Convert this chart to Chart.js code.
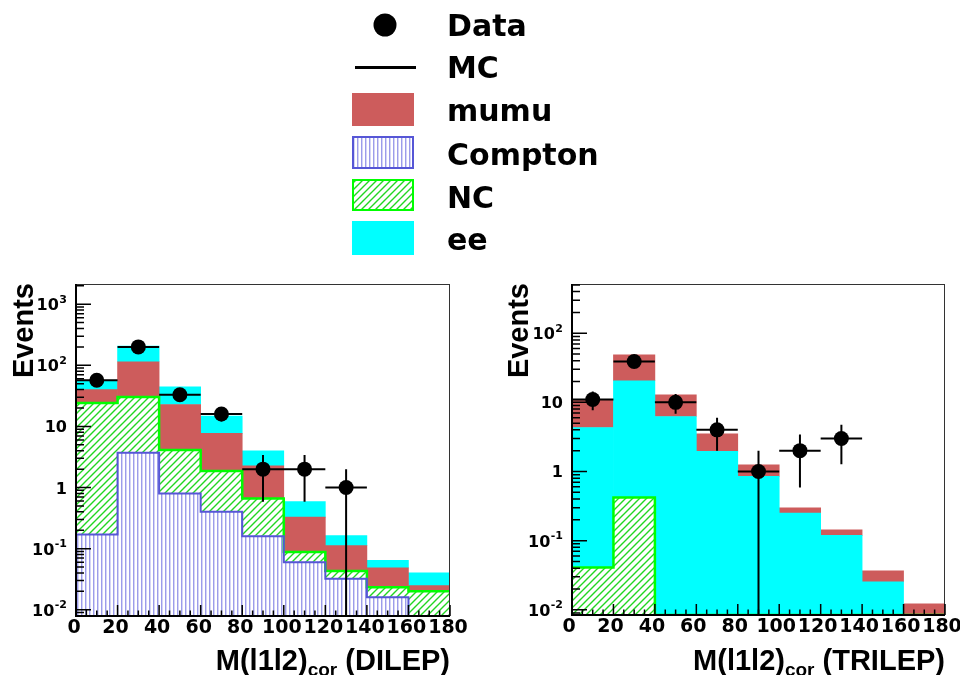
<!DOCTYPE html>
<html>
<head>
<meta charset="utf-8">
<script src="https://cdn.jsdelivr.net/npm/chart.js@4.4.1/dist/chart.umd.min.js"></script>
<style>
html,body{margin:0;padding:0;background:#fff;}
body{width:960px;height:675px;position:relative;overflow:hidden;color:#000;}
canvas{position:absolute;top:0;}
#cL{left:0;}
#cR{left:480px;}
#legSym{left:340px;}
.lt{position:absolute;left:447px;font-family:"DejaVu Sans",Verdana,sans-serif;font-weight:bold;font-size:30px;line-height:30px;white-space:nowrap;}
.xt{position:absolute;width:400px;text-align:right;font-family:"Liberation Sans",Arial,Helvetica,sans-serif;font-weight:bold;font-size:29px;line-height:29px;white-space:nowrap;}
.xt sub{font-size:19px;vertical-align:-6px;line-height:0;}
.yt{position:absolute;width:200px;text-align:right;font-family:"Liberation Sans",Arial,Helvetica,sans-serif;font-weight:bold;font-size:29px;line-height:29px;white-space:nowrap;transform:rotate(-90deg);transform-origin:0 0;}
</style>
</head>
<body>
<canvas id="cL" width="480" height="675"></canvas>
<canvas id="cR" width="480" height="675"></canvas>
<canvas id="legSym" width="100" height="260"></canvas>

<div class="lt" style="top:10.6px">Data</div>
<div class="lt" style="top:53.1px">MC</div>
<div class="lt" style="top:96.3px">mumu</div>
<div class="lt" style="top:139.6px">Compton</div>
<div class="lt" style="top:182.6px">NC</div>
<div class="lt" style="top:224.6px">ee</div>

<div class="yt" style="left:8.5px;top:483px">Events</div>
<div class="yt" style="left:503.5px;top:483px">Events</div>
<div class="xt" style="left:50px;top:645.5px">M(l1l2)<sub>cor</sub> (DILEP)</div>
<div class="xt" style="left:545px;top:645.5px">M(l1l2)<sub>cor</sub> (TRILEP)</div>

<script>
// ---------------- data ----------------
const binEdges   = [0, 20, 40, 60, 80, 100, 120, 140, 160, 180];
const binCenters = [10, 30, 50, 70, 90, 110, 130, 150, 170];

// DILEP (left panel): observed events and stacked MC components (bottom -> top)
const dilepData    = [57, 200, 33, 16, 2, 2, 1, 0, 0];
const dilepCompton = [0.17, 3.7, 0.80, 0.40, 0.16, 0.060, 0.032, 0.016, 0];
const dilepNC      = [24.1, 26.7, 3.3, 1.47, 0.50, 0.028, 0.011, 0.0074, 0.020];
const dilepMumu    = [15.7, 84, 18.7, 5.8, 1.6, 0.24, 0.069, 0.025, 0.0048];
const dilepEe      = [17, 91, 21.5, 7.1, 1.72, 0.26, 0.052, 0.016, 0.0155];

// TRILEP (right panel): observed events and stacked MC components (bottom -> top)
const trilepData    = [11, 39, 10, 4, 1, 2, 3, 0, 0];
const trilepCompton = [0, 0, 0, 0, 0, 0, 0, 0, 0];
const trilepNC      = [0.041, 0.42, 0, 0, 0, 0, 0, 0, 0];
const trilepEe      = [4.29, 20.1, 6.24, 1.95, 0.85, 0.25, 0.119, 0.0254, 0];
const trilepMumu    = [6.6, 28.1, 6.56, 1.55, 0.40, 0.048, 0.024, 0.0112, 0.0122];

// axis ranges and tick labels
const dilepYRange  = [0.0079, 2140];
const trilepYRange = [0.0084, 515];
const dilepYTickValues  = [0.01, 0.1, 1, 10, 100, 1000];
const dilepYTickLabels  = ['10^-2', '10^-1', '1', '10', '10^2', '10^3'];
const trilepYTickValues = [0.01, 0.1, 1, 10, 100];
const trilepYTickLabels = ['10^-2', '10^-1', '1', '10', '10^2'];
const xTickStep = 20;
const xMinorStep = 5;

// ---------------- styles ----------------
const COL_MUMU = '#cd5c5c';
const COL_EE = '#00ffff';
const COL_COMPTON_LINE = '#5656d6';
const COL_COMPTON_HATCH = '#9c9cea';
const COL_COMPTON_HATCH2 = '#d4d4f6';
const COL_NC_LINE = '#00ff00';
const COL_NC_HATCH = '#22d622';
const WIDE = '"DejaVu Sans", Verdana, sans-serif';

function comptonPattern(ctx) {
  const c = document.createElement('canvas'); c.width = 4; c.height = 4;
  const g = c.getContext('2d');
  g.fillStyle = '#fff'; g.fillRect(0, 0, 4, 4);
  g.fillStyle = COL_COMPTON_HATCH; g.fillRect(1, 0, 1, 4);
  g.fillStyle = COL_COMPTON_HATCH2; g.fillRect(2, 0, 1, 4);
  return ctx.createPattern(c, 'repeat');
}
function ncPattern(ctx) {
  const s = 7;
  const c = document.createElement('canvas'); c.width = s; c.height = s;
  const g = c.getContext('2d');
  g.fillStyle = '#fff'; g.fillRect(0, 0, s, s);
  g.strokeStyle = COL_NC_HATCH; g.lineWidth = 1.4;
  g.beginPath();
  g.moveTo(0, s); g.lineTo(s, 0);
  g.moveTo(-1, 1); g.lineTo(1, -1);
  g.moveTo(s - 1, s + 1); g.lineTo(s + 1, s - 1);
  g.stroke();
  return ctx.createPattern(c, 'repeat');
}

function stackTops(components) {
  const tops = [];
  let run = components[0].map(() => 0);
  components.forEach(c => { run = run.map((r, i) => r + c[i]); tops.push(run.slice()); });
  return tops;
}

// ---------------- ROOT-like frame / ticks / error bars ----------------
function drawLabel(ctx, text, xRight, yc) {
  const parts = text.split('^');
  const base = parts[0], sup = parts[1] || '';
  ctx.font = 'bold 16px ' + WIDE;
  const wb = ctx.measureText(base).width;
  ctx.font = 'bold 11px ' + WIDE;
  const ws = sup ? ctx.measureText(sup).width + 0.5 : 0;
  const x0 = xRight - wb - ws;
  ctx.textAlign = 'left'; ctx.textBaseline = 'alphabetic'; ctx.fillStyle = '#000';
  ctx.font = 'bold 16px ' + WIDE;
  ctx.fillText(base, x0, yc + 6);
  if (sup) { ctx.font = 'bold 11px ' + WIDE; ctx.fillText(sup, x0 + wb + 0.5, yc - 1.5); }
}

const rootStyle = {
  id: 'rootStyle',
  beforeDatasetDraw(chart, args, opts) {
    if (args.index !== 0) return;
    const ctx = chart.ctx, a = chart.chartArea, xs = chart.scales.x, ys = chart.scales.y;
    ctx.save();
    // frame
    ctx.strokeStyle = '#333'; ctx.lineWidth = 1;
    ctx.strokeRect(a.left + 0.5, a.top + 0.5, a.right - a.left - 1, a.bottom - a.top);
    ctx.strokeStyle = '#000'; ctx.lineWidth = 2;
    ctx.beginPath();
    ctx.moveTo(a.left, a.top); ctx.lineTo(a.left, a.bottom); ctx.lineTo(a.right, a.bottom);
    ctx.stroke();
    // ticks (inward)
    ctx.lineWidth = 1.5;
    ctx.beginPath();
    for (let v = xs.min; v <= xs.max + 1e-9; v += xMinorStep) {
      const px = xs.getPixelForValue(v);
      const len = (Math.abs(v % xTickStep) < 1e-9) ? 11 : 5.5;
      ctx.moveTo(px, a.bottom); ctx.lineTo(px, a.bottom - len);
    }
    const e0 = Math.floor(Math.log10(ys.min)), e1 = Math.ceil(Math.log10(ys.max));
    for (let e = e0; e <= e1; e++) {
      for (let m = 1; m < 10; m++) {
        const v = m * Math.pow(10, e);
        if (v < ys.min || v > ys.max) continue;
        const py = ys.getPixelForValue(v);
        ctx.moveTo(a.left, py); ctx.lineTo(a.left + (m === 1 ? 15 : 8), py);
      }
    }
    ctx.stroke();
    // data error bars: x = bin width, y = sqrt(N)
    ctx.beginPath(); ctx.rect(a.left, a.top, a.right - a.left, a.bottom - a.top); ctx.clip();
    ctx.strokeStyle = '#000'; ctx.lineWidth = 2;
    ctx.beginPath();
    chart.data.datasets[0].data.forEach((p, i) => {
      if (p.y == null) return;
      const err = Math.sqrt(p.y);
      const py = ys.getPixelForValue(p.y);
      const xl = xs.getPixelForValue(binEdges[i]), xr = xs.getPixelForValue(binEdges[i + 1]);
      const px = xs.getPixelForValue(p.x);
      const yHi = ys.getPixelForValue(p.y + err);
      const yLo = (p.y - err) > 0 ? ys.getPixelForValue(p.y - err) : a.bottom;
      ctx.moveTo(xl, py); ctx.lineTo(xr, py);
      ctx.moveTo(px, yHi); ctx.lineTo(px, Math.min(yLo, a.bottom));
    });
    ctx.stroke();
    ctx.restore();
  },
  afterDraw(chart, args, opts) {
    const ctx = chart.ctx, a = chart.chartArea, ys = chart.scales.y;
    ctx.save();
    opts.values.forEach((v, i) => drawLabel(ctx, opts.labels[i], a.left - 9, ys.getPixelForValue(v)));
    ctx.restore();
  }
};

function makeChart(canvasId, cfg) {
  const canvas = document.getElementById(canvasId);
  const ctx = canvas.getContext('2d');
  const tops = stackTops(cfg.components.map(c => c.values));
  const yMin = cfg.yRange[0];
  const datasets = [];
  datasets.push({
    type: 'line', label: 'Data',
    data: cfg.data.map((v, i) => ({ x: binCenters[i], y: v > 0 ? v : null })),
    showLine: false, pointRadius: 7.5, pointHoverRadius: 7.5, pointStyle: 'circle',
    pointBackgroundColor: '#000', pointBorderColor: '#000', pointBorderWidth: 0, borderColor: '#000'
  });
  cfg.components.forEach((c, k) => {
    if (!c.outline) return;
    const pts = tops[k].map((t, i) => ({ x: binEdges[i], y: Math.max(t, yMin) }));
    pts.push({ x: binEdges[binEdges.length - 1], y: Math.max(tops[k][tops[k].length - 1], yMin) });
    datasets.push({
      type: 'line', label: c.label + ' outline', data: pts, stepped: 'before',
      borderColor: c.outline, borderWidth: c.outlineWidth || 2, pointRadius: 0, fill: false
    });
  });
  cfg.components.forEach((c, k) => {
    datasets.push({
      type: 'bar', label: c.label,
      data: c.values.map((v, i) => ({
        x: binCenters[i],
        y: v > 0 ? [Math.max(k ? tops[k - 1][i] : 0, yMin), tops[k][i]] : null
      })),
      backgroundColor: c.fill === 'compton' ? comptonPattern(ctx) : c.fill === 'nc' ? ncPattern(ctx) : c.fill,
      borderWidth: 0, grouped: false, barPercentage: 1, categoryPercentage: 1
    });
  });
  return new Chart(ctx, {
    type: 'bar',
    data: { datasets },
    plugins: [rootStyle],
    options: {
      responsive: false, maintainAspectRatio: false, animation: false, devicePixelRatio: 1,
      events: [],
      layout: { padding: { top: 284, right: cfg.padRight, bottom: 0, left: 0 } },
      plugins: {
        legend: { display: false }, tooltip: { enabled: false }, title: { display: false },
        rootStyle: { values: cfg.yTickValues, labels: cfg.yTickLabels }
      },
      scales: {
        x: {
          type: 'linear', min: binEdges[0], max: binEdges[binEdges.length - 1], offset: false,
          grid: { display: false, drawTicks: false, offset: false }, border: { display: false },
          ticks: { stepSize: xTickStep, autoSkip: false, maxRotation: 0, padding: 1, labelOffset: cfg.labelOffset,
                   color: '#000', font: { family: WIDE, weight: 'bold', size: 19 } },
          afterFit(s) { s.height = cfg.xHeight; s.paddingLeft = 0; s.paddingRight = 0; }
        },
        y: {
          type: 'logarithmic', min: cfg.yRange[0], max: cfg.yRange[1],
          grid: { display: false }, border: { display: false }, ticks: { display: false },
          afterFit(s) { s.width = cfg.yWidth; s.paddingTop = 0; s.paddingBottom = 0; }
        }
      }
    }
  });
}

makeChart('cL', {
  data: dilepData, yRange: dilepYRange, yTickValues: dilepYTickValues, yTickLabels: dilepYTickLabels,
  yWidth: 76, padRight: 30, xHeight: 59, labelOffset: -2,
  components: [
    { label: 'Compton', values: dilepCompton, fill: 'compton', outline: COL_COMPTON_LINE, outlineWidth: 2 },
    { label: 'NC', values: dilepNC, fill: 'nc', outline: COL_NC_LINE, outlineWidth: 2.5 },
    { label: 'mumu', values: dilepMumu, fill: COL_MUMU },
    { label: 'ee', values: dilepEe, fill: COL_EE }
  ]
});
makeChart('cR', {
  data: trilepData, yRange: trilepYRange, yTickValues: trilepYTickValues, yTickLabels: trilepYTickLabels,
  yWidth: 92, padRight: 15, xHeight: 60, labelOffset: -3,
  components: [
    { label: 'Compton', values: trilepCompton, fill: 'compton', outline: COL_COMPTON_LINE, outlineWidth: 2 },
    { label: 'NC', values: trilepNC, fill: 'nc', outline: COL_NC_LINE, outlineWidth: 2.5 },
    { label: 'ee', values: trilepEe, fill: COL_EE },
    { label: 'mumu', values: trilepMumu, fill: COL_MUMU }
  ]
});

// ---------------- legend symbols ----------------
(function () {
  const c = document.getElementById('legSym');
  const g = c.getContext('2d');
  const ox = 340;
  const bx = 352 - ox, bw = 62, bh = 33;
  // Data marker
  g.fillStyle = '#000';
  g.beginPath(); g.arc(385 - ox, 25, 11.5, 0, Math.PI * 2); g.fill();
  // MC line
  g.strokeStyle = '#000'; g.lineWidth = 3;
  g.beginPath(); g.moveTo(355 - ox, 67.5); g.lineTo(416 - ox, 67.5); g.stroke();
  // mumu
  g.fillStyle = COL_MUMU; g.fillRect(bx, 93, bw, bh);
  // Compton
  g.fillStyle = comptonPattern(g); g.fillRect(bx, 136, bw, bh);
  g.strokeStyle = COL_COMPTON_LINE; g.lineWidth = 2; g.strokeRect(bx + 1, 137, bw - 2, bh - 2);
  // NC
  g.fillStyle = ncPattern(g); g.fillRect(bx, 179, bw, 32);
  g.strokeStyle = COL_NC_LINE; g.lineWidth = 2; g.strokeRect(bx + 1, 180, bw - 2, 30);
  // ee
  g.fillStyle = COL_EE; g.fillRect(bx, 221, bw, 34);
})();
</script>
</body>
</html>
